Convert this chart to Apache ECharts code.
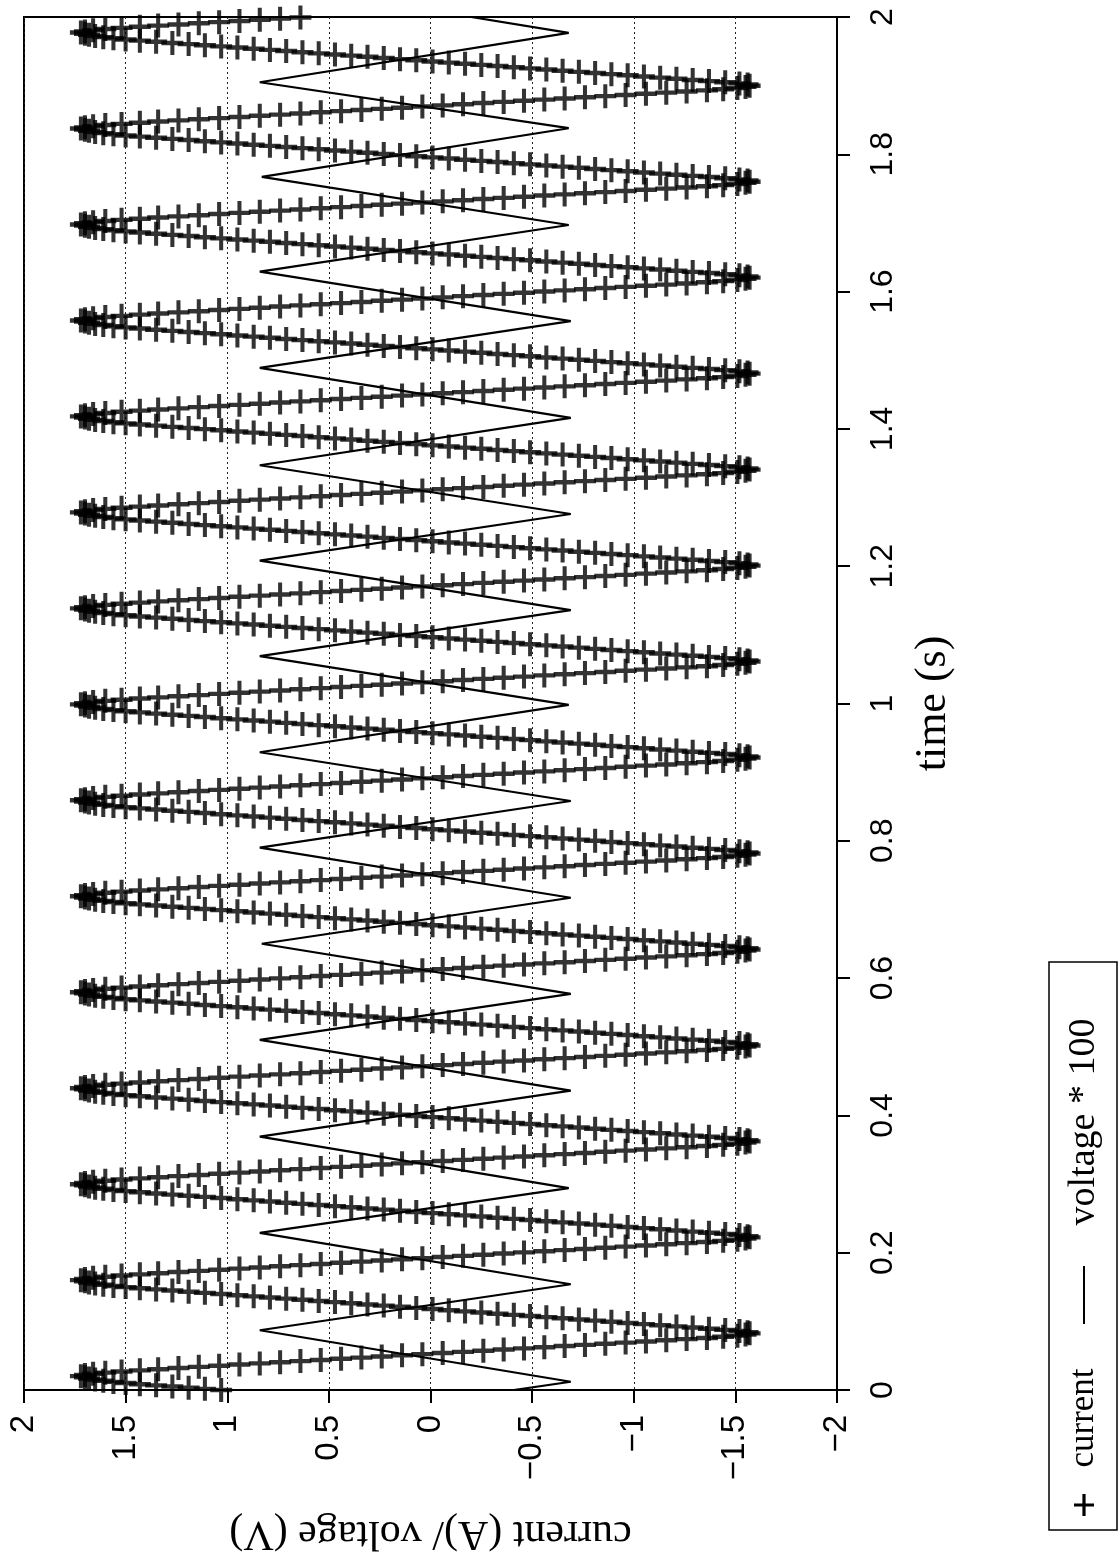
<!DOCTYPE html>
<html>
<head>
<meta charset="utf-8">
<script src="https://cdn.jsdelivr.net/npm/echarts@6/dist/echarts.min.js"></script>
<style>
  html, body { margin: 0; padding: 0; background: #fff; }
  #chart { width: 1120px; height: 1566px; }
</style>
</head>
<body>
<div id="chart"></div>
<script>
// Current (A): one period of sampled values, starting at the positive peak.
const currentCycle = [
  1.72, 1.70, 1.66, 1.60, 1.52, 1.43, 1.34, 1.24, 1.14, 1.04,
  0.94, 0.84, 0.74, 0.64, 0.54, 0.44, 0.34, 0.24, 0.14, 0.04,
  -0.06, -0.16, -0.26, -0.36, -0.46, -0.56, -0.66, -0.76, -0.86, -0.96,
  -1.06, -1.16, -1.26, -1.36, -1.44, -1.51, -1.55, -1.57,
  -1.56, -1.52, -1.45, -1.37, -1.29, -1.21, -1.13, -1.05, -0.97, -0.89,
  -0.81, -0.73, -0.65, -0.57, -0.49, -0.41, -0.33, -0.25, -0.17, -0.09,
  -0.01, 0.07, 0.15, 0.23, 0.31, 0.39, 0.47, 0.55, 0.63, 0.71,
  0.79, 0.87, 0.95, 1.03, 1.11, 1.19, 1.27, 1.35, 1.43, 1.50,
  1.56, 1.61, 1.65, 1.68, 1.70
];
const currentSampleStep = 0.0016843;   // s between current samples
const currentStartIndex = 71;          // position in the cycle of the sample taken at t = 0
const recordLength = 2.0;              // s

// Voltage * 100: turning points of the triangular trace
const voltageTimes = [
  0.000, 0.012, 0.087, 0.154, 0.229, 0.294, 0.369, 0.436, 0.510, 0.577,
  0.650, 0.717, 0.790, 0.858, 0.929, 0.998, 1.069, 1.136, 1.208, 1.276,
  1.347, 1.416, 1.489, 1.557, 1.629, 1.697, 1.767, 1.838, 1.905, 1.977, 2.000
];
const voltageValues = [
  -0.41, -0.69, 0.84, -0.69, 0.84, -0.68, 0.84, -0.69, 0.84, -0.69,
  0.83, -0.69, 0.84, -0.69, 0.84, -0.68, 0.84, -0.69, 0.84, -0.69,
  0.84, -0.69, 0.84, -0.69, 0.84, -0.68, 0.83, -0.68, 0.84, -0.68, -0.20
];

// Axis ticks
const valueTicks = [2, 1.5, 1, 0.5, 0, -0.5, -1, -1.5, -2];
const timeTickLabels = ['0', '0.2', '0.4', '0.6', '0.8', '1', '1.2', '1.4', '1.6', '1.8', '2'];

const legendLabels = ['current', 'voltage * 100'];

// Build [value, time] pairs: time runs up the right-hand axis
const currentData = [];
for (let k = 0; k * currentSampleStep <= recordLength + 1e-9; k++) {
  const t = k * currentSampleStep;
  const v = currentCycle[(currentStartIndex + k) % currentCycle.length];
  currentData.push([v, +t.toFixed(5)]);
}
const voltageData = voltageTimes.map((t, i) => [voltageValues[i], t]);

const plusPath = 'path://M-2.2,-12H2.2V-2.2H12V2.2H2.2V12H-2.2V2.2H-12V-2.2H-2.2Z';
const black = '#000';

// plus-shaped outline centred on (cx, cy) for the legend key
function plusPoints(cx, cy, hw, hh, th) {
  return [
    [cx - th, cy - hh], [cx + th, cy - hh], [cx + th, cy - th], [cx + hw, cy - th],
    [cx + hw, cy + th], [cx + th, cy + th], [cx + th, cy + hh], [cx - th, cy + hh],
    [cx - th, cy + th], [cx - hw, cy + th], [cx - hw, cy - th], [cx - th, cy - th]
  ];
}

const chart = echarts.init(document.getElementById('chart'), null, { renderer: 'canvas' });

const option = {
  animation: false,
  backgroundColor: '#fff',
  grid: {
    left: 24, right: 283, top: 17, bottom: 176,
    show: true, borderColor: black, borderWidth: 2
  },
  xAxis: {
    type: 'value',
    min: -2, max: 2, interval: 0.5,
    inverse: true,
    position: 'bottom',
    axisLine: { show: true, onZero: false, lineStyle: { color: black, width: 2 } },
    axisTick: { show: true, length: 13, lineStyle: { color: black, width: 2 } },
    axisLabel: {
      rotate: 90, margin: 25,
      fontFamily: 'Liberation Sans', fontSize: 33, color: black,
      formatter: function (v) {
        const idx = valueTicks.findIndex(x => Math.abs(x - v) < 1e-6);
        const s = idx >= 0 ? String(valueTicks[idx]) : String(v);
        return s.replace('-', '\u2212');
      }
    },
    splitLine: { show: true, lineStyle: { color: '#222', width: 1, type: [2, 3] } },
    name: 'current (A)/ voltage (V)',
    nameLocation: 'middle',
    nameRotate: 180,
    nameGap: 122,
    nameTextStyle: { fontFamily: 'Liberation Serif', fontSize: 42, color: black }
  },
  yAxis: {
    type: 'value',
    min: 0, max: 2, interval: 0.2,
    position: 'right',
    axisLine: { show: true, onZero: false, lineStyle: { color: black, width: 2 } },
    axisTick: { show: true, length: 13, lineStyle: { color: black, width: 2 } },
    axisLabel: {
      rotate: 90, margin: 30,
      fontFamily: 'Liberation Sans', fontSize: 32, color: black,
      formatter: function (v) {
        const idx = Math.round(v / 0.2);
        return timeTickLabels[idx] !== undefined ? timeTickLabels[idx] : String(v);
      }
    },
    splitLine: { show: false },
    name: 'time (s)',
    nameLocation: 'middle',
    nameRotate: 90,
    nameGap: 74,
    nameTextStyle: { fontFamily: 'Liberation Serif', fontSize: 44, color: black }
  },
  series: [
    {
      name: legendLabels[0],
      type: 'scatter',
      data: currentData,
      symbol: plusPath,
      symbolSize: [22, 24],
      itemStyle: { color: black },
      clip: false,
      z: 3
    },
    {
      name: legendLabels[1],
      type: 'line',
      data: voltageData,
      showSymbol: false,
      symbol: 'none',
      lineStyle: { color: black, width: 2.2 },
      z: 2
    }
  ],
  graphic: [
    {
      type: 'rect',
      shape: { x: 1049, y: 962, width: 68, height: 568 },
      style: { fill: 'none', stroke: black, lineWidth: 1.5 }
    },
    {
      type: 'polygon',
      shape: { points: plusPoints(1084, 1505, 10, 11, 1.6) },
      style: { fill: black }
    },
    {
      type: 'text',
      x: 1084, y: 1418, rotation: Math.PI / 2,
      style: { text: legendLabels[0], font: '35px "Liberation Serif"', fill: black, align: 'center', verticalAlign: 'middle' }
    },
    {
      type: 'line',
      shape: { x1: 1084, y1: 1324, x2: 1084, y2: 1266 },
      style: { stroke: black, lineWidth: 2 }
    },
    {
      type: 'text',
      x: 1084, y: 1122, rotation: Math.PI / 2,
      style: { text: legendLabels[1], font: '38px "Liberation Serif"', fill: black, align: 'center', verticalAlign: 'middle' }
    }
  ]
};

chart.setOption(option);
</script>
</body>
</html>
